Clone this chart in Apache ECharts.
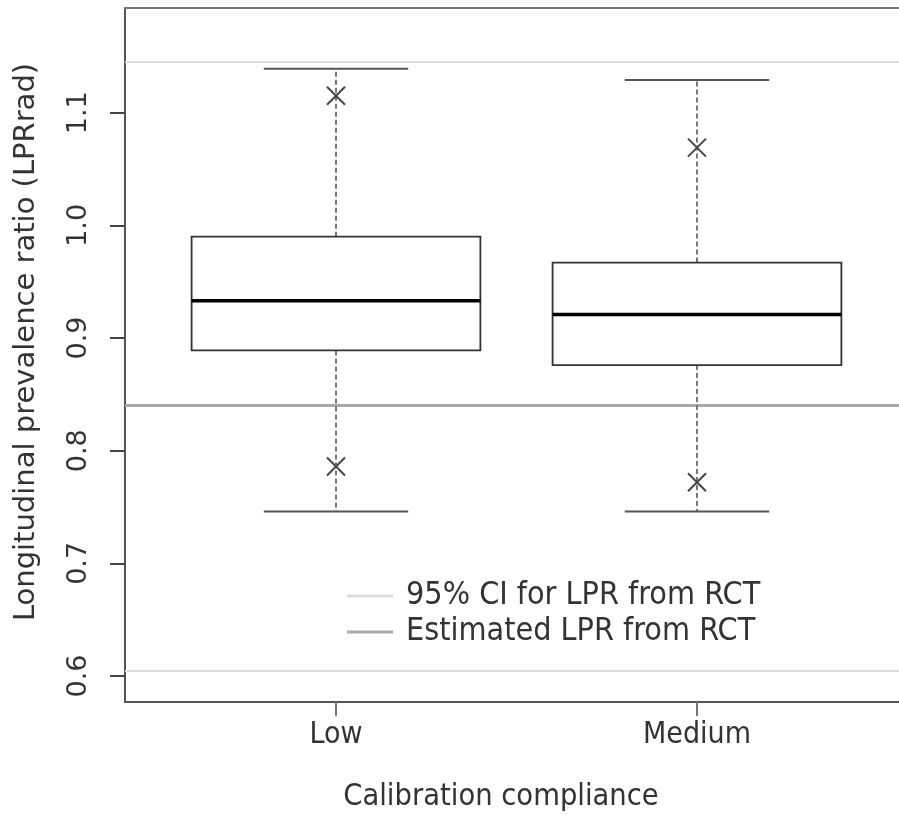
<!DOCTYPE html>
<html>
<head>
<meta charset="utf-8">
<script src="https://cdn.jsdelivr.net/npm/echarts@6/dist/echarts.min.js"></script>
<style>html,body{margin:0;padding:0;background:#fff}#c{width:899px;height:818px}</style>
</head>
<body>
<div id="c"></div>
<script>
var categories = ['Low', 'Medium'];
var xPos = [1, 2];
var whiskerLow = [0.746, 0.746];
var q1 = [0.889, 0.876];
var median = [0.933, 0.921];
var q3 = [0.990, 0.967];
var whiskerHigh = [1.139, 1.129];
var markLow = [0.786, 0.772];
var markHigh = [1.115, 1.069];
var ciBounds = [1.145, 0.6044];
var estimate = [0.840];
var yTicks = [0.6, 0.7, 0.8, 0.9, 1.0, 1.1];

var boxData = xPos.map(function (x, i) {
  return [x, whiskerLow[i], q1[i], median[i], q3[i], whiskerHigh[i]];
});
var markData = [];
xPos.forEach(function (x, i) { markData.push([x, markLow[i]]); markData.push([x, markHigh[i]]); });

var FONT_H = '"DejaVu Sans Condensed", "DejaVu Sans", sans-serif';
var FONT_V = '"DejaVu Sans", sans-serif';
var chart = echarts.init(document.getElementById('c'));
chart.setOption({
  animation: false,
  textStyle: { fontFamily: FONT_H },
  grid: { left: 125, right: 0, top: 8, bottom: 114, containLabel: false },
  legend: {
    orient: 'vertical', left: 342, top: 575, itemGap: 4,
    itemWidth: 46, itemHeight: 3,
    textStyle: { fontFamily: FONT_H, fontSize: 32, color: '#333', padding: [0, 0, 0, 8] },
    data: [
      { name: '95% CI for LPR from RCT', icon: 'rect', itemStyle: { color: '#dcdcdc' } },
      { name: 'Estimated LPR from RCT', icon: 'rect', itemStyle: { color: '#aaaaaa' } }
    ]
  },
  xAxis: [{
    type: 'value', min: 0.4155, max: 2.5596, position: 'bottom',
    splitLine: { show: false },
    axisLine: { show: true, lineStyle: { color: '#555', width: 2 } },
    axisTick: { show: true, length: 14, customValues: xPos, lineStyle: { color: '#777', width: 2 } },
    axisLabel: {
      customValues: xPos, margin: 18, fontSize: 30, color: '#333', fontFamily: FONT_H,
      formatter: function (v) { var i = xPos.indexOf(Math.round(v)); return i >= 0 ? categories[i] : ''; }
    },
    name: 'Calibration compliance', nameLocation: 'middle', nameGap: 80,
    nameTextStyle: { fontSize: 30.5, color: '#333', fontFamily: FONT_H, padding: [0, 22, 0, 0] }
  }, {
    type: 'value', min: 0.4155, max: 2.5596, position: 'top',
    splitLine: { show: false },
    axisLine: { show: true, lineStyle: { color: '#777', width: 2 } },
    axisTick: { show: false }, axisLabel: { show: false }
  }],
  yAxis: {
    type: 'value', min: 0.577, max: 1.1929,
    splitLine: { show: false },
    axisLine: { show: true, lineStyle: { color: '#555', width: 2 } },
    axisTick: { show: true, length: 15, customValues: yTicks, lineStyle: { color: '#444', width: 2 } },
    axisLabel: {
      customValues: yTicks, rotate: 90, margin: 33, fontSize: 27, color: '#333', fontFamily: FONT_V,
      formatter: function (v) { return v.toFixed(1); }
    },
    name: 'Longitudinal prevalence ratio (LPRrad)', nameLocation: 'middle', nameGap: 84,
    nameTextStyle: { fontSize: 29, color: '#333', fontFamily: FONT_V, padding: [0, 0, 0, 26] }
  },
  series: [
    {
      name: '95% CI for LPR from RCT', type: 'line', data: [], color: '#dcdcdc',
      markLine: {
        silent: true, symbol: 'none', label: { show: false }, precision: 4,
        lineStyle: { color: '#dcdcdc', width: 2, type: 'solid' },
        data: ciBounds.map(function (v) { return { yAxis: v }; })
      }
    },
    {
      name: 'Estimated LPR from RCT', type: 'line', data: [], color: '#aaaaaa',
      markLine: {
        silent: true, symbol: 'none', label: { show: false }, precision: 4,
        lineStyle: { color: '#aaaaaa', width: 3, type: 'solid' },
        data: estimate.map(function (v) { return { yAxis: v }; })
      }
    },
    {
      type: 'custom', data: boxData, z: 5,
      renderItem: function (params, api) {
        var x = api.value(0);
        var pWL = api.coord([x, api.value(1)]);
        var pQ1 = api.coord([x, api.value(2)]);
        var pMed = api.coord([x, api.value(3)]);
        var pQ3 = api.coord([x, api.value(4)]);
        var pWH = api.coord([x, api.value(5)]);
        var half = api.size([0.8, 0])[0] / 2;
        var cap = api.size([0.4, 0])[0] / 2;
        var cx = pMed[0];
        var dash = { stroke: '#777', lineWidth: 2, lineDash: [5, 3] };
        var solid = { stroke: '#555', lineWidth: 2 };
        return {
          type: 'group',
          children: [
            { type: 'line', shape: { x1: cx, y1: pQ3[1], x2: cx, y2: pWH[1] }, style: dash },
            { type: 'line', shape: { x1: cx, y1: pQ1[1], x2: cx, y2: pWL[1] }, style: dash },
            { type: 'line', shape: { x1: cx - cap, y1: pWH[1], x2: cx + cap, y2: pWH[1] }, style: solid },
            { type: 'line', shape: { x1: cx - cap, y1: pWL[1], x2: cx + cap, y2: pWL[1] }, style: solid },
            { type: 'rect', shape: { x: cx - half, y: pQ3[1], width: 2 * half, height: pQ1[1] - pQ3[1] },
              style: { fill: '#fff', stroke: '#333', lineWidth: 1.8 } },
            { type: 'line', shape: { x1: cx - half, y1: pMed[1], x2: cx + half, y2: pMed[1] },
              style: { stroke: '#000', lineWidth: 3.5 } }
          ]
        };
      }
    },
    {
      type: 'custom', data: markData, z: 6,
      renderItem: function (params, api) {
        var p = api.coord([api.value(0), api.value(1)]);
        var s = 9;
        var st = { stroke: '#444', lineWidth: 2 };
        return {
          type: 'group',
          children: [
            { type: 'line', shape: { x1: p[0] - s, y1: p[1] - s, x2: p[0] + s, y2: p[1] + s }, style: st },
            { type: 'line', shape: { x1: p[0] - s, y1: p[1] + s, x2: p[0] + s, y2: p[1] - s }, style: st }
          ]
        };
      }
    }
  ]
});
</script>
</body>
</html>
